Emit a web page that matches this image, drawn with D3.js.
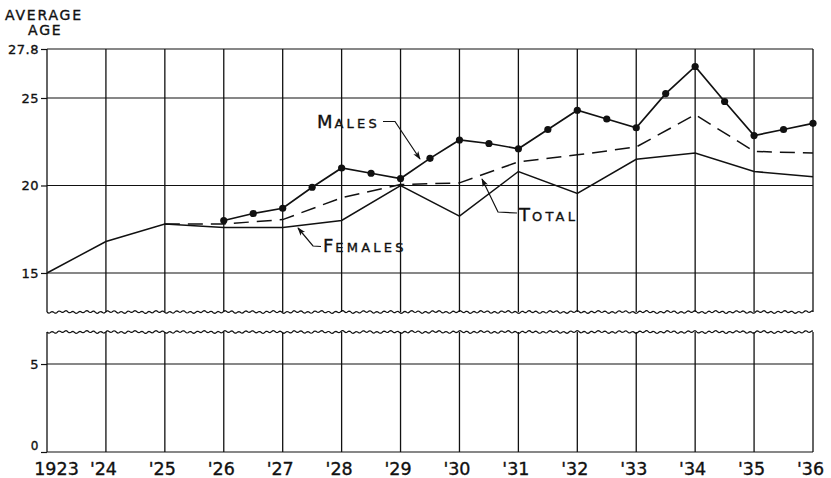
<!DOCTYPE html>
<html><head><meta charset="utf-8">
<script src="https://cdn.jsdelivr.net/npm/d3@7"></script>
<style>
body{margin:0;background:#fff}
svg{display:block}
text{font-family:"DejaVu Sans",sans-serif;fill:#111;stroke:#111;stroke-width:0.35px}
</style></head><body>
<svg id="c" width="831" height="478"></svg>
<script>
// ---- data ----
const yearTicks = [1923,1924,1925,1926,1927,1928,1929,1930,1931,1932,1933,1934,1935,1936];
const yearLabels = ["1923","'24","'25","'26","'27","'28","'29","'30","'31","'32","'33","'34","'35","'36"];
const upperTicks = [15,20,25,27.8];
const upperTickLabels = ["15","20","25","27.8"];
const lowerTicks = [0,5];
const lowerTickLabels = ["0","5"];

const femaleYears  = [1923,1924,1925,1926,1927,1928,1929,1930,1931,1932,1933,1934,1935,1936];
const femaleValues = [15.0,16.8,17.8,17.6,17.6,18.0,20.0,18.25,20.8,19.55,21.5,21.85,20.8,20.5];

const totalYears  = [1925,1926,1927,1928,1929,1930,1931,1932,1933,1934,1935,1936];
const totalValues = [17.8,17.8,18.05,19.3,20.05,20.15,21.35,21.75,22.2,24.05,21.95,21.85];

const maleYears  = [1926,1926.5,1927,1927.5,1928,1928.5,1929,1929.5,1930,1930.5,1931,1931.5,1932,1932.5,1933,1933.5,1934,1934.5,1935,1935.5,1936];
const maleValues = [18.0,18.4,18.7,19.9,21.0,20.7,20.4,21.55,22.6,22.4,22.1,23.2,24.3,23.8,23.3,25.25,26.8,24.8,22.85,23.2,23.55];

const seriesNames = ["MALES","TOTAL","FEMALES"];
const axisTitle = ["AVERAGE","AGE"];

// ---- scales ----
const svg = d3.select("#c");
const x = d3.scaleLinear().domain([1923,1936]).range([47,813]);
const yTop = d3.scaleLinear().domain([12.77,27.8]).range([312,49]);
const yBot = d3.scaleLinear().domain([0,6.82]).range([452,332]);
const x0 = x.range()[0], x1 = x.range()[1];
const ink = "#111";

// ---- grid ----
const g = svg.append("g");
yearTicks.forEach(t=>{
  g.append("line").attr("x1",x(t)).attr("x2",x(t)).attr("y1",yTop(27.8)).attr("y2",yTop.range()[0])
    .attr("stroke",ink).attr("stroke-width",1.3);
  g.append("line").attr("x1",x(t)).attr("x2",x(t)).attr("y1",yBot.range()[1]).attr("y2",yBot(0))
    .attr("stroke",ink).attr("stroke-width",1.3);
});
upperTicks.forEach(v=>{
  g.append("line").attr("x1",x0).attr("x2",x1).attr("y1",yTop(v)).attr("y2",yTop(v))
    .attr("stroke",ink).attr("stroke-width",1.2);
});
lowerTicks.forEach(v=>{
  g.append("line").attr("x1",x0).attr("x2",x1).attr("y1",yBot(v)).attr("y2",yBot(v))
    .attr("stroke",ink).attr("stroke-width",1.2);
});

// wavy break lines
function wavy(y0){
  let d = "M"+x0+","+y0;
  for(let px=x0; px<=x1; px+=1){
    const w = Math.sin((px-x0)/1.1)*0.9 + Math.sin((px-x0)/3.7)*0.5;
    d += " L"+px+","+(y0+w).toFixed(2);
  }
  return d;
}
g.append("path").attr("d",wavy(yTop.range()[0])).attr("fill","none").attr("stroke",ink).attr("stroke-width",1.2);
g.append("path").attr("d",wavy(yBot.range()[1])).attr("fill","none").attr("stroke",ink).attr("stroke-width",1.2);

// ---- axes ----
const ayTop = d3.axisLeft(yTop).tickValues(upperTicks).tickFormat((d,i)=>upperTickLabels[i]).tickSize(6).tickPadding(2);
const ayBot = d3.axisLeft(yBot).tickValues(lowerTicks).tickFormat((d,i)=>lowerTickLabels[i]).tickSize(6).tickPadding(2);
[ayTop, ayBot].forEach((axis,k)=>{
  const a = svg.append("g").attr("transform","translate("+x0+",0)").call(axis);
  a.select(".domain").remove();
  a.selectAll("line").attr("stroke",ink).attr("stroke-width",1.2);
  a.selectAll("text").attr("font-size",13).attr("font-family","DejaVu Sans").attr("fill",ink).attr("letter-spacing",0.5);
  if(k===1) a.selectAll("text").filter(d=>d===0).attr("y",-6).attr("font-size",12);
});
const ax = d3.axisBottom(x).tickValues(yearTicks).tickFormat((d,i)=>yearLabels[i]).tickSize(0);
const axg = svg.append("g").attr("transform","translate(0,"+yBot(0)+")").call(ax);
axg.select(".domain").remove();
axg.selectAll("text").attr("font-size",17.5).attr("font-family","DejaVu Sans").attr("fill",ink)
  .attr("y",23).attr("dy",0)
  .attr("dx",(d,i)=> i===0 ? 9 : -3);

// axis title
svg.append("text").attr("x",5).attr("y",20).attr("font-size",14).attr("letter-spacing",1.8).text(axisTitle[0]);
svg.append("text").attr("x",28).attr("y",35).attr("font-size",14).attr("letter-spacing",1.8).text(axisTitle[1]);

// ---- series ----
const lineTop = (xs,vs)=> d3.line().x((d,i)=>x(xs[i])).y((d,i)=>yTop(vs[i]))(vs);
svg.append("path").attr("d",lineTop(femaleYears,femaleValues)).attr("fill","none").attr("stroke",ink).attr("stroke-width",1.5);
svg.append("path").attr("d",lineTop(totalYears,totalValues)).attr("fill","none").attr("stroke",ink).attr("stroke-width",1.5)
  .attr("stroke-dasharray","15,8");
svg.append("path").attr("d",lineTop(maleYears,maleValues)).attr("fill","none").attr("stroke",ink).attr("stroke-width",1.7);
svg.append("g").selectAll("circle").data(maleValues).join("circle")
  .attr("cx",(d,i)=>x(maleYears[i])).attr("cy",d=>yTop(d)).attr("r",3.6).attr("fill",ink);

// ---- annotations ----
svg.append("defs").append("marker").attr("id","arr").attr("viewBox","0 0 10 10").attr("refX",9).attr("refY",5)
  .attr("markerWidth",7).attr("markerHeight",7).attr("orient","auto")
  .append("path").attr("d","M0,1.5 L10,5 L0,8.5 L2.5,5 Z").attr("fill",ink);

function label(xp, yp, word){
  const t = svg.append("text").attr("x",xp).attr("y",yp);
  t.append("tspan").attr("font-size",18).text(word[0]);
  t.append("tspan").attr("font-size",13).attr("letter-spacing",3.2).attr("dx",2).text(word.slice(1));
}
label(317,128,seriesNames[0]);
label(519,221,seriesNames[1]);
label(323,252,seriesNames[2]);

const lead = d3.line();
svg.append("path").attr("d",lead([[383,121.5],[395,121.5],[420,159]])).attr("fill","none").attr("stroke",ink).attr("stroke-width",1.2).attr("marker-end","url(#arr)");
svg.append("path").attr("d",lead([[517,213],[498,212],[482,179]])).attr("fill","none").attr("stroke",ink).attr("stroke-width",1.2).attr("marker-end","url(#arr)");
svg.append("path").attr("d",lead([[321,246.5],[313,246],[298,228]])).attr("fill","none").attr("stroke",ink).attr("stroke-width",1.2).attr("marker-end","url(#arr)");
</script>
</body></html>
